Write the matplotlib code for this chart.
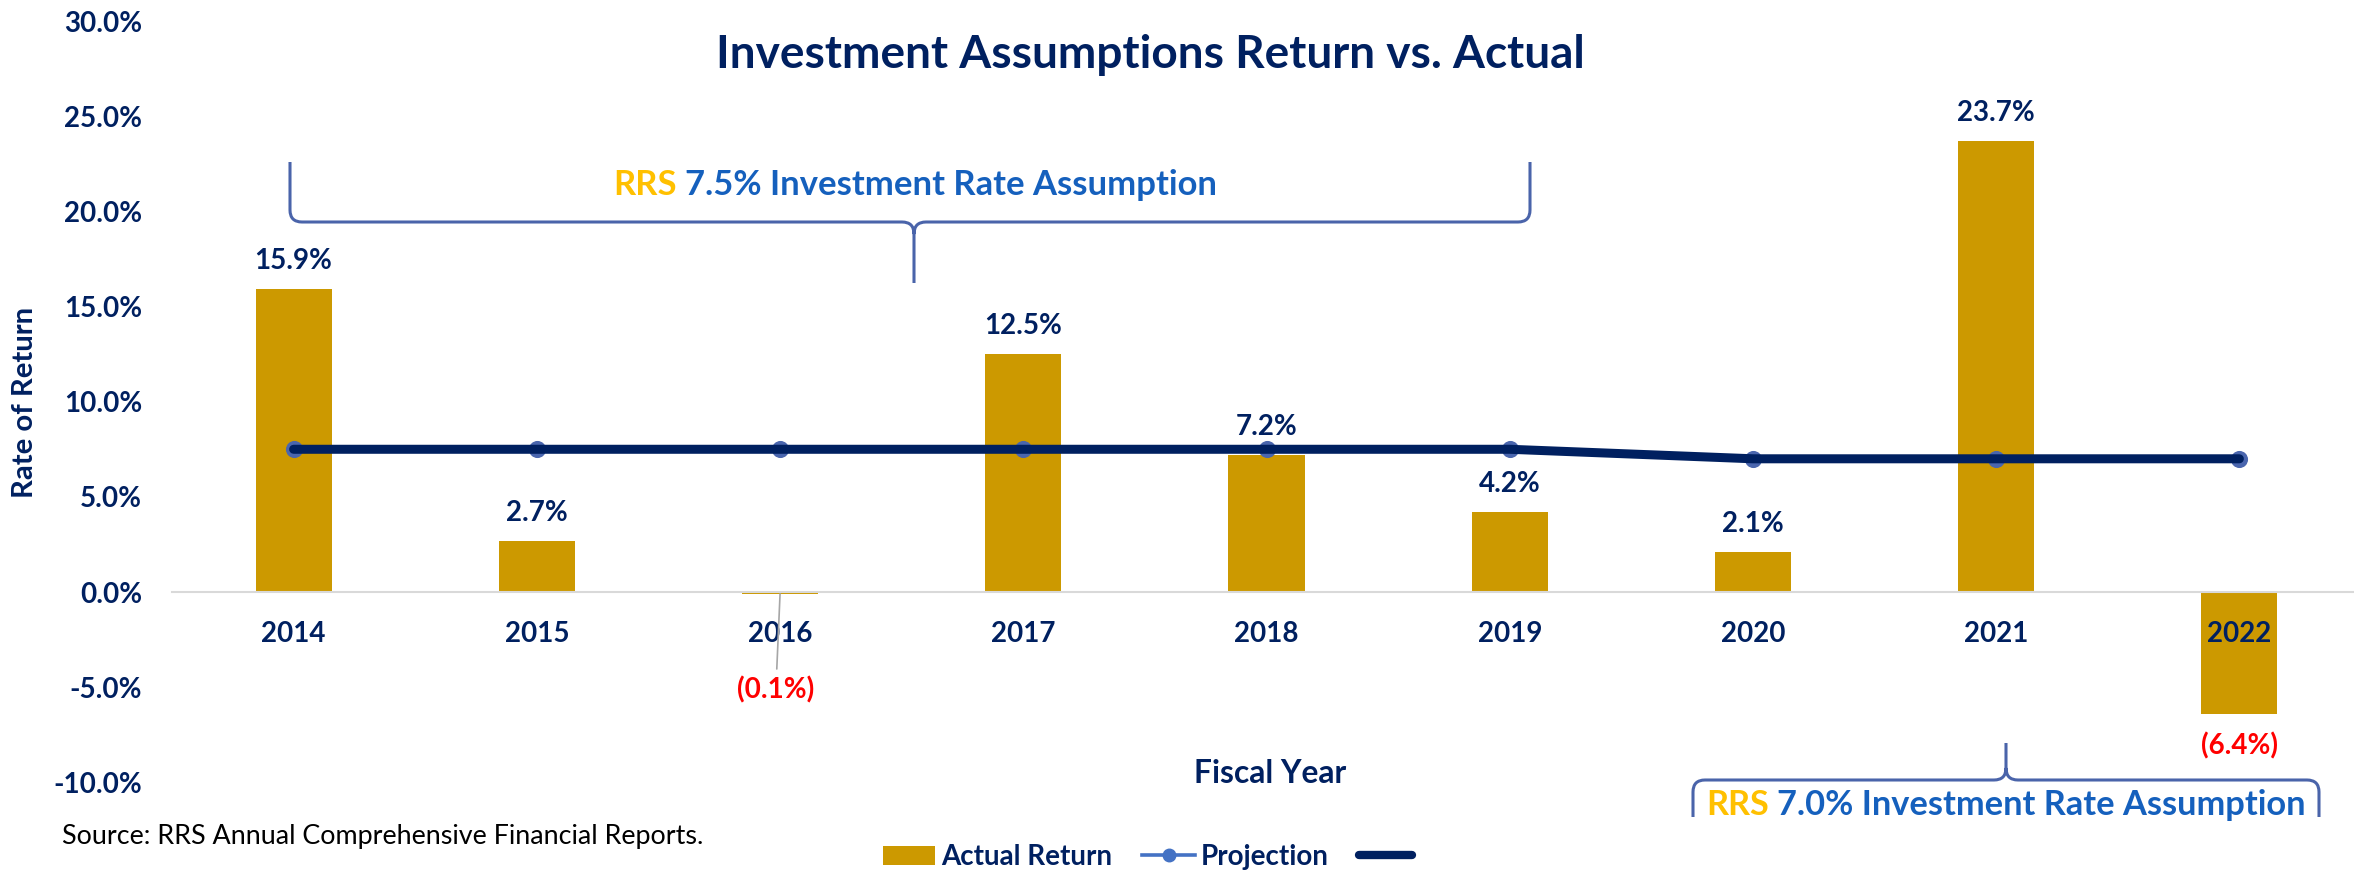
import numpy as np
import matplotlib
matplotlib.use("Agg")
import matplotlib.pyplot as plt
from matplotlib.path import Path
from matplotlib.patches import PathPatch, Patch
from matplotlib.lines import Line2D
from matplotlib.ticker import FuncFormatter

# ---------------- data ----------------
years = ["2014", "2015", "2016", "2017", "2018", "2019", "2020", "2021", "2022"]
actual_return = [15.9, 2.7, -0.1, 12.5, 7.2, 4.2, 2.1, 23.7, -6.4]
projection = [7.5, 7.5, 7.5, 7.5, 7.5, 7.5, 7.0, 7.0, 7.0]
y_ticks = [-10, -5, 0, 5, 10, 15, 20, 25, 30]

title = "Investment Assumptions Return vs. Actual"
brace_top_rest = "7.5% Investment Rate Assumption"
brace_bot_rest = "7.0% Investment Rate Assumption"
source = "Source: RRS Annual Comprehensive Financial Reports."

# ---------------- style ----------------
NAVY = "#002060"
GOLD_BAR = "#CC9900"
MARKER_BLUE = "#4A66AE"
LEGEND_BLUE = "#4472C4"
BRACE = "#4A64AA"
TXT_BLUE = "#1560BD"
RRS_GOLD = "#FFC000"
RED = "#FF0000"

plt.rcParams['font.family'] = ['Lato', 'DejaVu Sans']

W, H = 2354, 872
fig = plt.figure(figsize=(W / 100, H / 100), dpi=100)


def fx(x):
    return x / W


def fy(y):
    return 1 - y / H


ax_left, ax_right = 172, 2361
ax_top, ax_bot = 21.1, 782.3
ax = fig.add_axes([fx(ax_left), fy(ax_bot), (ax_right - ax_left) / W, (ax_bot - ax_top) / H])
ax.set_xlim(-0.5, len(years) - 0.5)
ax.set_ylim(-10, 30)
ax.set_axisbelow(False)

x = np.arange(len(years))
ax.bar(x, actual_return, width=0.313, color=GOLD_BAR, zorder=1.5)

# projection markers (light) and thick navy line on top
ax.plot(x, projection, ls="none", marker="o", ms=11.3, color=MARKER_BLUE, zorder=3)
ax.plot(x, projection, ls="-", lw=6.5, color=NAVY, solid_capstyle="round",
        solid_joinstyle="round", zorder=4)

# axes styling
for s in ["top", "right", "left"]:
    ax.spines[s].set_visible(False)
ax.spines["bottom"].set_position(("data", 0))
ax.spines["bottom"].set_color("#D9D9D9")
ax.spines["bottom"].set_linewidth(1.5)
ax.set_xticks(x)
ax.set_xticklabels(years)
ax.set_yticks(y_ticks)
ax.yaxis.set_major_formatter(FuncFormatter(lambda v, p: f"{v:.1f}%"))
ax.tick_params(axis="x", length=0, pad=21, labelsize=20, labelcolor=NAVY)
ax.tick_params(axis="y", length=0, pad=21.6, labelsize=20, labelcolor=NAVY)
for lab in ax.get_xticklabels() + ax.get_yticklabels():
    lab.set_fontweight("bold")

# data labels
for i, v in enumerate(actual_return):
    if v >= 0:
        ax.annotate(f"{v:.1f}%", xy=(i, v), xytext=(0, 14.4), textcoords="offset points",
                    ha="center", va="baseline", fontsize=20, fontweight="bold", color=NAVY, zorder=6)
    elif v > -1:
        ax.annotate(f"({abs(v):.1f}%)", xy=(i, v), xytext=(-3, -75), textcoords="offset points",
                    ha="center", va="baseline", fontsize=20, fontweight="bold", color=RED,
                    arrowprops=dict(arrowstyle="-", color="#A6A6A6", lw=1.2, shrinkA=3, shrinkB=0),
                    zorder=6)
    else:
        ax.annotate(f"({abs(v):.1f}%)", xy=(i, v), xytext=(0, -29.5), textcoords="offset points",
                    ha="center", va="baseline", fontsize=20, fontweight="bold", color=RED, zorder=6)

# texts
t_title = fig.text(fx(1150), fy(68), title, ha="center", va="baseline",
                   fontsize=30, fontweight="bold", color=NAVY)
t_ylab = fig.text(fx(25), fy(402), "Rate of Return", rotation=90, ha="center", va="center",
                  fontsize=19, fontweight="bold", color=NAVY)
t_xlab = fig.text(fx(1270), fy(773), "Fiscal Year", ha="center", va="center",
                  fontsize=19, fontweight="bold", color=NAVY)
t_src = fig.text(fx(62), fy(844), source, ha="left", va="baseline", fontsize=18, color="black")


def fit(t, target, dim="w"):
    fig.canvas.draw()
    r = fig.canvas.get_renderer()
    bb = t.get_window_extent(r)
    cur = bb.width if dim == "w" else bb.height
    t.set_fontsize(t.get_fontsize() * target / cur)


fit(t_title, 867)
fit(t_ylab, 190, "h")
fit(t_xlab, 152)
fit(t_src, 641)


# braces
def brace(x0, x1, xt, ys, yb, ytip, r=12, r2=12):
    d = 1 if yb > ys else -1
    v, c = [], []
    for xe, sgn in ((x0, 1), (x1, -1)):
        v += [(xe, ys), (xe, yb - d * r), (xe, yb), (xe + sgn * r, yb),
              (xt - sgn * r2, yb), (xt, yb), (xt, yb + d * r2)]
        c += [Path.MOVETO, Path.LINETO, Path.CURVE3, Path.CURVE3,
              Path.LINETO, Path.CURVE3, Path.CURVE3]
    v += [(xt, yb + d * r2), (xt, ytip)]
    c += [Path.MOVETO, Path.LINETO]
    v = [(fx(a), fy(b)) for a, b in v]
    fig.add_artist(PathPatch(Path(v, c), fill=False, lw=2.2, edgecolor=BRACE,
                             transform=fig.transFigure, capstyle="butt", joinstyle="round"))


brace(290, 1530, 914, 162, 222, 283)
brace(1693, 2319, 2006, 817, 780, 743)


def two_color(cx, ybase, rest, target_w):
    full = fig.text(0, 0, "RRS " + rest, fontsize=24, fontweight="bold", alpha=0)
    fit(full, target_w)
    fs = full.get_fontsize()
    fig.canvas.draw()
    r = fig.canvas.get_renderer()
    wfull = full.get_window_extent(r).width
    full.remove()
    left = cx - wfull / 2
    right = cx + wfull / 2
    fig.text(fx(left), fy(ybase), "RRS", ha="left", va="baseline", fontsize=fs,
             fontweight="bold", color=RRS_GOLD)
    fig.text(fx(right), fy(ybase), rest, ha="right", va="baseline", fontsize=fs,
             fontweight="bold", color=TXT_BLUE)


two_color(915, 195, brace_top_rest, 603)
two_color(2006, 815, brace_bot_rest, 600)

# legend
handles = [Patch(facecolor=GOLD_BAR, edgecolor="none"),
           Line2D([], [], color=LEGEND_BLUE, lw=2.6, marker="o", ms=9, markerfacecolor=LEGEND_BLUE),
           Line2D([], [], color=NAVY, lw=6, solid_capstyle="round")]
labels = ["Actual Return", "Projection", ""]
fig.legend(handles, labels, loc="center", bbox_to_anchor=(fx(1150), fy(857)), ncol=3,
           frameon=False, fontsize=20, handlelength=1.9, handleheight=0.7,
           handletextpad=0.2, columnspacing=1.1, borderpad=0,
           prop={"weight": "bold", "size": 20}, labelcolor=NAVY)

fig.savefig("out.png", dpi=100)
